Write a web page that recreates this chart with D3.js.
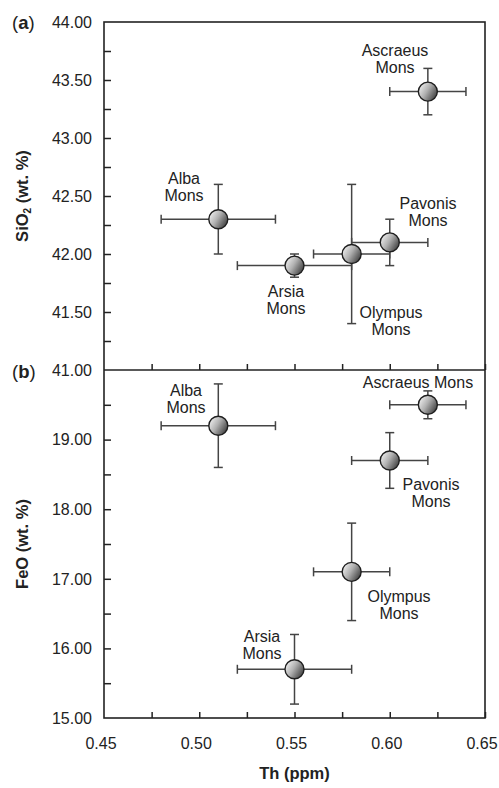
<!DOCTYPE html>
<html><head><meta charset="utf-8">
<script src="https://cdn.jsdelivr.net/npm/d3@7"></script>
<style>body{margin:0;background:#fff}svg{display:block}text{font-family:"Liberation Sans",Arial,Helvetica,sans-serif;fill:#222}</style>
</head><body><div id="c"></div>
<script>
// Data
const names = ["Ascraeus", "Alba", "Arsia", "Olympus", "Pavonis"];
const th = [0.62, 0.51, 0.55, 0.58, 0.60];
const thErrLo = [0.60, 0.48, 0.52, 0.56, 0.58];
const thErrHi = [0.64, 0.54, 0.58, 0.60, 0.62];
const sio2 = [43.40, 42.30, 41.90, 42.00, 42.10];
const sio2Lo = [43.20, 42.00, 41.80, 41.40, 41.90];
const sio2Hi = [43.60, 42.60, 42.00, 42.60, 42.30];
const feo = [19.50, 19.20, 15.70, 17.10, 18.70];
const feoLo = [19.30, 18.60, 15.20, 16.40, 18.30];
const feoHi = [19.70, 19.80, 16.20, 17.80, 19.10];
const xTicks = [0.45, 0.50, 0.55, 0.60, 0.65];
const yTicksA = [41.00, 41.50, 42.00, 42.50, 43.00, 43.50, 44.00];
const yTicksB = [15.00, 16.00, 17.00, 18.00, 19.00];

const W = 499, H = 788;
const L = 104, R = 485, TA = 22, MID = 370, BB = 718;
const svg = d3.select("#c").append("svg").attr("width", W).attr("height", H);

const x = d3.scaleLinear().domain([0.45, 0.65]).range([L, R]);
const yA = d3.scaleLinear().domain([41, 44]).range([MID, TA]);
const yB = d3.scaleLinear().domain([15, 20]).range([BB, MID]);

const defs = svg.append("defs");
const g = defs.append("linearGradient").attr("id", "ball").attr("x1", "0").attr("y1", "0.2").attr("x2", "1").attr("y2", "0.8");
g.append("stop").attr("offset", "0").attr("stop-color", "#f4f4f4");
g.append("stop").attr("offset", "0.45").attr("stop-color", "#b0b0b0");
g.append("stop").attr("offset", "1").attr("stop-color", "#363636");

const axisColor = "#222";
// Frame
svg.append("rect").attr("x", L).attr("y", TA).attr("width", R - L).attr("height", BB - TA)
  .attr("fill", "none").attr("stroke", axisColor).attr("stroke-width", 1.6);
svg.append("line").attr("x1", L).attr("x2", R).attr("y1", MID).attr("y2", MID)
  .attr("stroke", axisColor).attr("stroke-width", 1.6);

// Y axes (panel a)
const axA = d3.axisRight(yA).tickValues(d3.range(41.25, 44, 0.25)).tickSize(7).tickFormat("");
svg.append("g").attr("transform", `translate(${L},0)`).call(axA)
  .call(s => { s.select(".domain").remove(); s.selectAll("line").attr("stroke", axisColor).attr("stroke-width", 1.5); });
svg.append("g").selectAll("text").data(yTicksA).join("text")
  .attr("x", 92).attr("y", d => yA(d)).attr("dy", "0.36em").attr("text-anchor", "end")
  .attr("font-size", 16).text(d => d.toFixed(2));

// Y axes (panel b)
const axB = d3.axisRight(yB).tickValues(d3.range(15.5, 20, 0.5)).tickSize(7).tickFormat("");
svg.append("g").attr("transform", `translate(${L},0)`).call(axB)
  .call(s => { s.select(".domain").remove(); s.selectAll("line").attr("stroke", axisColor).attr("stroke-width", 1.5); });
svg.append("g").selectAll("text").data(yTicksB).join("text")
  .attr("x", 92).attr("y", d => yB(d)).attr("dy", "0.36em").attr("text-anchor", "end")
  .attr("font-size", 16).text(d => d.toFixed(2));

// X ticks at bottom and middle
const xMinor = d3.range(0.475, 0.65, 0.025);
[BB, MID].forEach(yy => {
  const ax = d3.axisTop(x).tickValues(xMinor).tickSize(6).tickFormat("");
  svg.append("g").attr("transform", `translate(0,${yy})`).call(ax)
    .call(s => { s.select(".domain").remove(); s.selectAll("line").attr("stroke", axisColor).attr("stroke-width", 1.5); });
});
svg.append("g").selectAll("text").data(xTicks).join("text")
  .attr("x", d => x(d) - 3).attr("y", 749).attr("text-anchor", "middle")
  .attr("font-size", 16).text(d => d.toFixed(2));

// Axis titles
svg.append("text").attr("x", (L + R) / 2).attr("y", 779).attr("text-anchor", "middle")
  .attr("font-size", 16.5).attr("font-weight", "bold").text("Th (ppm)");
const tA = svg.append("text").attr("transform", `translate(28,${(TA + MID) / 2}) rotate(-90)`)
  .attr("text-anchor", "middle").attr("font-size", 16.5).attr("font-weight", "bold");
tA.append("tspan").text("SiO");
tA.append("tspan").attr("font-size", 10).attr("dy", 3).text("2");
tA.append("tspan").attr("dy", -3).text(" (wt. %)");
svg.append("text").attr("transform", `translate(28,${(MID + BB) / 2}) rotate(-90)`)
  .attr("text-anchor", "middle").attr("font-size", 16.5).attr("font-weight", "bold").text("FeO (wt. %)");

// Panel labels
function panelLabel(letter, yy) {
  const t = svg.append("text").attr("x", 12).attr("y", yy).attr("font-size", 18.5);
  t.append("tspan").text("(");
  t.append("tspan").attr("font-weight", "bold").text(letter);
  t.append("tspan").text(")");
}
panelLabel("a", 29);
panelLabel("b", 378);

// Points with error bars
function drawPanel(y, vals, lo, hi) {
  const gp = svg.append("g");
  const ebColor = "#444", cap = 4.5;
  names.forEach((n, i) => {
    const cx = x(th[i]), cy = y(vals[i]);
    const e = gp.append("g").attr("stroke", ebColor).attr("stroke-width", 1.5);
    e.append("line").attr("x1", x(thErrLo[i])).attr("x2", x(thErrHi[i])).attr("y1", cy).attr("y2", cy);
    e.append("line").attr("x1", x(thErrLo[i])).attr("x2", x(thErrLo[i])).attr("y1", cy - cap).attr("y2", cy + cap);
    e.append("line").attr("x1", x(thErrHi[i])).attr("x2", x(thErrHi[i])).attr("y1", cy - cap).attr("y2", cy + cap);
    e.append("line").attr("x1", cx).attr("x2", cx).attr("y1", y(lo[i])).attr("y2", y(hi[i]));
    e.append("line").attr("x1", cx - cap).attr("x2", cx + cap).attr("y1", y(lo[i])).attr("y2", y(lo[i]));
    e.append("line").attr("x1", cx - cap).attr("x2", cx + cap).attr("y1", y(hi[i])).attr("y2", y(hi[i]));
  });
  names.forEach((n, i) => {
    gp.append("circle").attr("cx", x(th[i])).attr("cy", y(vals[i])).attr("r", 9.5)
      .attr("fill", "url(#ball)").attr("stroke", "#1e1e1e").attr("stroke-width", 1.4);
  });
}
drawPanel(yA, sio2, sio2Lo, sio2Hi);
drawPanel(yB, feo, feoLo, feoHi);

// Labels
function label(lines, cx, by) {
  const t = svg.append("text").attr("text-anchor", "middle").attr("font-size", 16);
  lines.forEach((s, k) => t.append("tspan").attr("x", cx).attr("y", by + k * 17).text(s));
}
label(["Ascraeus", "Mons"], 395, 56);
label(["Alba", "Mons"], 184, 184);
label(["Arsia", "Mons"], 286, 297);
label(["Olympus", "Mons"], 391, 318);
label(["Pavonis", "Mons"], 428, 209);
label(["Ascraeus Mons"], 418, 388);
label(["Alba", "Mons"], 186, 396);
label(["Pavonis", "Mons"], 431, 490);
label(["Olympus", "Mons"], 399, 602);
label(["Arsia", "Mons"], 262, 642);
</script></body></html>
